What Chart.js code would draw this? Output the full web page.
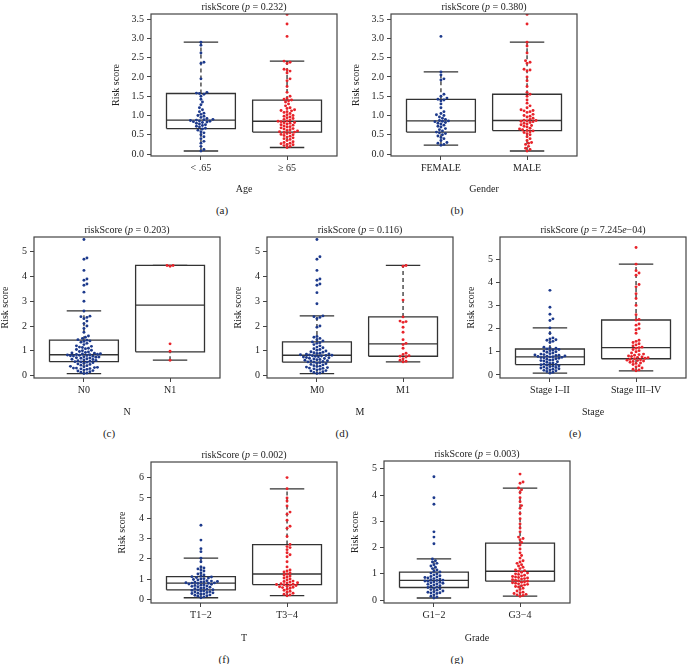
<!DOCTYPE html>
<html>
<head>
<meta charset="utf-8">
<script src="https://cdn.jsdelivr.net/npm/chart.js@4.4.1/dist/chart.umd.min.js"></script>
<style>
body { margin:0; background:#fff; width:687px; height:664px; position:relative; overflow:hidden;
       font-family:"Liberation Serif","DejaVu Serif",serif; color:#222; }
canvas { position:absolute; }
.ttl { position:absolute; font-size:10px; transform:translate(-50%,-50%); white-space:nowrap; color:#222; }
.lab { position:absolute; font-size:11px; transform:translate(-50%,-50%); color:#222; }
</style>
</head>
<body>
<script>
// ---- data ----
// box stats per group: [lower whisker, q1, median, q3, upper whisker]
var ageCats = ['< .65', '\u2265 65'];
var ageLow = [0.08,0.12,0.2,0.28,0.33,0.4,0.45,0.5,0.55,0.58,0.62,0.65,0.67,0.7,0.72,0.74,0.76,0.78,0.8,0.82,0.83,0.84,0.85,0.86,0.87,0.88,0.89,0.9,0.92,0.95,0.98,1.0,1.03,1.06,1.1,1.15,1.2,1.28,1.35,1.42,1.5,1.55,1.57,1.58,1.6,1.95,2.35,2.38,2.62,2.82,2.9];
var ageHigh = [0.17,0.2,0.22,0.24,0.25,0.27,0.28,0.3,0.32,0.35,0.38,0.4,0.42,0.44,0.46,0.48,0.5,0.51,0.53,0.55,0.56,0.57,0.58,0.6,0.61,0.63,0.65,0.66,0.68,0.7,0.71,0.73,0.75,0.76,0.78,0.8,0.81,0.82,0.84,0.85,0.86,0.88,0.9,0.92,0.94,0.96,0.98,1.0,1.02,1.05,1.08,1.1,1.12,1.13,1.15,1.18,1.2,1.25,1.3,1.35,1.38,1.4,1.42,1.45,1.5,1.6,1.75,1.9,1.95,2.1,2.15,2.18,2.2,2.35,2.38,2.41,3.05,3.37,3.62];
var ageBox = [[0.08,0.66,0.88,1.57,2.9],[0.17,0.57,0.85,1.40,2.41]];

var genderCats = ['FEMALE', 'MALE'];
var female = [0.23,0.25,0.28,0.3,0.35,0.4,0.43,0.47,0.5,0.53,0.55,0.57,0.6,0.63,0.66,0.7,0.72,0.75,0.78,0.8,0.82,0.84,0.85,0.86,0.87,0.9,0.93,0.96,1.0,1.02,1.05,1.1,1.2,1.3,1.38,1.4,1.42,1.45,1.5,1.55,1.92,1.95,2.05,2.13,3.05];
var male = [0.08,0.12,0.15,0.2,0.25,0.28,0.3,0.35,0.4,0.45,0.5,0.53,0.56,0.58,0.6,0.61,0.63,0.65,0.67,0.7,0.72,0.74,0.76,0.78,0.8,0.82,0.84,0.85,0.86,0.87,0.88,0.9,0.93,0.96,0.98,1.0,1.03,1.08,1.1,1.12,1.13,1.15,1.2,1.25,1.32,1.4,1.5,1.55,1.6,1.75,1.9,2.0,2.15,2.18,2.2,2.35,2.38,2.42,2.62,2.8,2.9,3.37,3.62];
var genderBox = [[0.23,0.57,0.86,1.42,2.13],[0.08,0.61,0.87,1.55,2.90]];

var nCats = ['N0', 'N1'];
var n0 = [0.08,0.1,0.13,0.15,0.18,0.2,0.22,0.25,0.27,0.28,0.3,0.3,0.32,0.33,0.35,0.37,0.4,0.42,0.45,0.47,0.5,0.52,0.54,0.55,0.56,0.58,0.6,0.61,0.63,0.65,0.66,0.68,0.7,0.71,0.72,0.74,0.75,0.76,0.78,0.79,0.8,0.81,0.82,0.83,0.84,0.85,0.86,0.87,0.88,0.9,0.91,0.93,0.95,0.97,1.0,1.02,1.05,1.08,1.1,1.13,1.15,1.18,1.2,1.25,1.3,1.35,1.38,1.4,1.43,1.45,1.5,1.55,1.6,1.75,1.9,2.0,2.1,2.2,2.3,2.35,2.38,2.4,2.61,3.0,3.37,3.65,3.7,3.85,3.9,4.25,4.7,4.75,5.5];
var n1 = [0.62,0.98,1.28,4.42,4.45,4.45];
var nBox = [[0.08,0.56,0.84,1.43,2.61],[0.62,0.96,2.85,4.45,4.45]];

var mCats = ['M0', 'M1'];
var m0 = [0.08,0.1,0.12,0.15,0.18,0.2,0.23,0.25,0.27,0.29,0.3,0.32,0.34,0.36,0.38,0.4,0.43,0.45,0.48,0.5,0.52,0.54,0.55,0.57,0.59,0.6,0.62,0.64,0.65,0.67,0.69,0.7,0.72,0.73,0.75,0.76,0.78,0.79,0.8,0.81,0.82,0.83,0.84,0.86,0.87,0.89,0.9,0.92,0.94,0.96,0.99,1.02,1.05,1.08,1.12,1.15,1.2,1.25,1.3,1.33,1.36,1.4,1.45,1.5,1.55,1.58,1.95,2.0,2.3,2.35,2.38,2.41,2.9,3.35,3.65,3.7,3.85,3.9,4.25,4.7,4.8,5.5];
var m1 = [0.55,0.58,0.62,0.68,0.75,0.78,0.8,0.85,0.9,1.1,1.25,1.3,1.45,1.75,1.95,2.15,2.18,2.2,2.37,3.05,4.42,4.45];
var mBox = [[0.08,0.54,0.82,1.36,2.41],[0.55,0.78,1.28,2.37,4.45]];

var stageCats = ['Stage I\u2013II', 'Stage III\u2013IV'];
var stage12 = [0.08,0.12,0.15,0.18,0.2,0.22,0.25,0.27,0.28,0.3,0.32,0.34,0.36,0.38,0.4,0.42,0.44,0.45,0.47,0.5,0.52,0.55,0.57,0.6,0.62,0.64,0.66,0.68,0.7,0.72,0.74,0.75,0.76,0.78,0.79,0.8,0.81,0.82,0.84,0.85,0.86,0.88,0.9,0.92,0.95,0.98,1.0,1.03,1.05,1.08,1.1,1.12,1.15,1.18,1.2,1.4,1.45,1.5,1.52,1.55,1.6,1.8,2.03,2.35,2.42,2.62,2.92,3.65];
var stage34 = [0.18,0.22,0.25,0.3,0.35,0.4,0.45,0.5,0.52,0.55,0.58,0.6,0.62,0.64,0.66,0.68,0.7,0.72,0.74,0.76,0.78,0.8,0.82,0.85,0.88,0.9,0.95,1.0,1.05,1.1,1.15,1.18,1.2,1.25,1.3,1.35,1.4,1.45,1.5,1.8,1.95,2.0,2.15,2.2,2.37,2.4,2.6,3.0,3.3,3.5,3.8,3.9,4.3,4.4,4.5,4.78,5.5];
var stageBox = [[0.08,0.45,0.78,1.12,2.03],[0.18,0.70,1.18,2.37,4.78]];

var tCats = ['T1\u22122', 'T3\u22124'];
var t12 = [0.08,0.12,0.15,0.18,0.2,0.22,0.25,0.27,0.29,0.3,0.32,0.34,0.36,0.38,0.4,0.42,0.44,0.46,0.47,0.5,0.52,0.55,0.57,0.6,0.62,0.64,0.66,0.68,0.7,0.72,0.74,0.76,0.78,0.79,0.8,0.81,0.82,0.84,0.85,0.87,0.88,0.9,0.92,0.95,0.98,1.0,1.02,1.05,1.08,1.1,1.12,1.15,1.2,1.25,1.3,1.4,1.45,1.5,1.55,1.6,1.85,2.03,2.35,2.5,2.92,3.65];
var t34 = [0.18,0.22,0.25,0.3,0.35,0.4,0.45,0.5,0.55,0.58,0.6,0.62,0.65,0.68,0.7,0.72,0.73,0.75,0.77,0.8,0.82,0.85,0.88,0.9,0.95,1.0,1.05,1.1,1.15,1.2,1.25,1.3,1.35,1.4,1.45,1.6,1.85,2.1,2.2,2.3,2.45,2.55,2.6,2.7,3.1,3.5,3.6,3.9,4.2,4.3,4.6,4.85,5.0,5.45,6.0];
var tBox = [[0.08,0.47,0.80,1.12,2.03],[0.18,0.73,1.25,2.70,5.45]];

var gradeCats = ['G1\u22122', 'G3\u22124'];
var g12 = [0.08,0.12,0.15,0.2,0.25,0.27,0.28,0.3,0.32,0.35,0.38,0.4,0.43,0.45,0.48,0.5,0.53,0.55,0.58,0.6,0.62,0.64,0.66,0.68,0.7,0.72,0.73,0.75,0.76,0.78,0.8,0.82,0.84,0.86,0.88,0.9,0.93,0.96,1.0,1.03,1.07,1.1,1.15,1.2,1.25,1.3,1.35,1.4,1.45,1.5,1.57,2.15,2.4,2.6,3.65,3.9,4.7];
var g34 = [0.15,0.18,0.2,0.22,0.25,0.28,0.3,0.35,0.4,0.45,0.5,0.52,0.55,0.58,0.6,0.62,0.64,0.66,0.68,0.7,0.72,0.74,0.76,0.78,0.8,0.82,0.84,0.86,0.88,0.9,0.92,0.95,0.98,1.0,1.03,1.06,1.1,1.12,1.15,1.2,1.25,1.3,1.35,1.4,1.45,1.5,1.6,1.7,1.8,1.95,2.1,2.2,2.3,2.35,2.4,2.6,2.75,2.9,3.1,3.3,3.5,3.6,3.75,3.9,4.1,4.2,4.27,4.45,4.5,4.8];
var gradeBox = [[0.08,0.48,0.75,1.07,1.57],[0.15,0.72,1.10,2.17,4.27]];

// tick labels
var ticksHalf = [0,0.5,1,1.5,2,2.5,3,3.5];
var ticks0to5 = [0,1,2,3,4,5];
var ticks0to6 = [0,1,2,3,4,5,6];

var colors = ['#1d3a8c', '#e8232a'];
var lineColor = '#333';
var textColor = '#222';

// ---- panel layout ----
var panels = [
  {cats:ageCats, groups:[ageLow,ageHigh], box:ageBox, p:'0.232', xTitle:'Age', yMin:-0.05, yMax:3.63, yTicks:ticksHalf, dec:1, f:[151,14,186,142], yw:41, xh:39, letter:'(a)', lx:222, ly:210},
  {cats:genderCats, groups:[female,male], box:genderBox, p:'0.380', xTitle:'Gender', yMin:-0.05, yMax:3.63, yTicks:ticksHalf, dec:1, f:[391,14,186,142], yw:41, xh:39, letter:'(b)', lx:457, ly:210},
  {cats:nCats, groups:[n0,n1], box:nBox, p:'0.203', xTitle:'N', yMin:-0.1, yMax:5.6, yTicks:ticks0to5, dec:0, f:[34,237,186,141], yw:35, xh:40, letter:'(c)', lx:109, ly:433},
  {cats:mCats, groups:[m0,m1], box:mBox, p:'0.116', xTitle:'M', yMin:-0.1, yMax:5.6, yTicks:ticks0to5, dec:0, f:[267,237,186,141], yw:35, xh:40, letter:'(d)', lx:342, ly:433},
  {cats:stageCats, groups:[stage12,stage34], box:stageBox, p:'7.245<i>e</i>\u221204', xTitle:'Stage', yMin:-0.13, yMax:5.95, yTicks:ticks0to5, dec:0, f:[500,237,186,141], yw:35, xh:40, letter:'(e)', lx:575, ly:433},
  {cats:tCats, groups:[t12,t34], box:tBox, p:'0.002', xTitle:'T', yMin:-0.18, yMax:6.77, yTicks:ticks0to6, dec:0, f:[151,462,186,141], yw:35, xh:41, letter:'(f)', lx:224, ly:659},
  {cats:gradeCats, groups:[g12,g34], box:gradeBox, p:'0.003', xTitle:'Grade', yMin:-0.11, yMax:5.3, yTicks:ticks0to5, dec:0, f:[384,461,186,142], yw:35, xh:41, letter:'(g)', lx:457, ly:659}
];

var X_MIN = 0.42, X_MAX = 2.58, PAD = 10;

/**
 * Beeswarm placement: returns points with small x offsets so dots do not overlap
 */
function swarm(vals, cx, pxX, pxY, d) {
  var s = vals.slice().sort(function (a, b) { return a - b; });
  var placed = [], pts = [];
  for (var i = 0; i < s.length; i++) {
    var py = s[i] * pxY, off = 0;
    for (var k = 0; k < 80; k++) {
      off = (k % 2 === 1 ? 1 : -1) * Math.ceil(k / 2) * d / 2;
      var ok = true;
      for (var j = placed.length - 1; j >= 0; j--) {
        var dy = py - placed[j][1];
        if (dy >= d) break;
        var dx = off - placed[j][0];
        if (dx * dx + dy * dy < d * d) { ok = false; break; }
      }
      if (ok) break;
    }
    placed.push([off, py]);
    pts.push({x: cx + off / pxX, y: s[i]});
  }
  return pts;
}

function seg(data, dash, order) {
  return {type: 'line', data: data, showLine: true, borderColor: lineColor, borderWidth: 1.3,
          borderDash: dash || [], pointRadius: 0, fill: false, spanGaps: false, order: order || 1};
}

var framePlugin = {
  id: 'frame',
  afterDraw: function (chart) {
    var a = chart.chartArea, c = chart.ctx;
    c.save();
    c.strokeStyle = '#444';
    c.lineWidth = 1.2;
    c.strokeRect(a.left, a.top, a.right - a.left, a.bottom - a.top);
    c.restore();
  }
};

function makePanel(p) {
  var L = p.f[0], T = p.f[1], W = p.f[2], H = p.f[3];
  var cv = document.createElement('canvas');
  var cw = W + p.yw + PAD, ch = H + PAD + p.xh;
  cv.width = cw; cv.height = ch;
  cv.style.left = (L - p.yw) + 'px';
  cv.style.top = (T - PAD) + 'px';
  cv.style.width = cw + 'px';
  cv.style.height = ch + 'px';
  document.body.appendChild(cv);

  var title = document.createElement('div');
  title.className = 'ttl';
  title.style.left = (L + W / 2) + 'px';
  title.style.top = (T - 8) + 'px';
  title.innerHTML = 'riskScore (<i>p</i> = ' + p.p + ')';
  document.body.appendChild(title);

  var lab = document.createElement('div');
  lab.className = 'lab';
  lab.style.left = p.lx + 'px';
  lab.style.top = p.ly + 'px';
  lab.textContent = p.letter;
  document.body.appendChild(lab);

  var pxX = W / (X_MAX - X_MIN), pxY = H / (p.yMax - p.yMin);
  var ds = [];
  for (var g = 0; g < 2; g++) {
    var x = g + 1, b = p.box[g];
    ds.push(seg([{x:x-0.4,y:b[1]},{x:x+0.4,y:b[1]},{x:x+0.4,y:b[3]},{x:x-0.4,y:b[3]},{x:x-0.4,y:b[1]}]));
    ds.push(seg([{x:x-0.4,y:b[2]},{x:x+0.4,y:b[2]}]));
    ds.push(seg([{x:x,y:b[3]},{x:x,y:b[4]},{x:x,y:null},{x:x,y:b[0]},{x:x,y:b[1]}], [4, 3]));
    ds.push(seg([{x:x-0.2,y:b[4]},{x:x+0.2,y:b[4]},{x:x,y:null},{x:x-0.2,y:b[0]},{x:x+0.2,y:b[0]}]));
    ds.push({type: 'scatter', data: swarm(p.groups[g], x, pxX, pxY, 3.0),
             backgroundColor: colors[g], borderWidth: 0, pointRadius: 1.45, order: 0});
  }

  new Chart(cv.getContext('2d'), {
    type: 'scatter',
    data: {datasets: ds},
    plugins: [framePlugin],
    options: {
      responsive: false, animation: false, devicePixelRatio: 1, events: [],
      layout: {padding: {top: PAD, right: PAD, left: 0, bottom: 0}},
      plugins: {legend: {display: false}, tooltip: {enabled: false}},
      scales: {
        x: {
          type: 'linear', min: X_MIN, max: X_MAX, offset: false,
          afterBuildTicks: function (s) { s.ticks = [{value: 1}, {value: 2}]; },
          afterFit: function (s) { s.height = p.xh; },
          ticks: {color: textColor, padding: 2, font: {family: '"Liberation Serif", serif', size: 10},
                  callback: function (v, i) { return p.cats[i]; }},
          grid: {display: true, drawOnChartArea: false, drawTicks: true, tickLength: 4, color: '#444'},
          border: {display: false},
          title: {display: true, text: p.xTitle, color: textColor, padding: 0,
                  font: {family: '"Liberation Serif", serif', size: 10}}
        },
        y: {
          type: 'linear', min: p.yMin, max: p.yMax,
          afterBuildTicks: function (s) { s.ticks = p.yTicks.map(function (v) { return {value: v}; }); },
          afterFit: function (s) { s.width = p.yw; },
          ticks: {color: textColor, padding: 3, font: {family: '"Liberation Serif", serif', size: 10},
                  callback: function (v) { return v.toFixed(p.dec); }},
          grid: {display: true, drawOnChartArea: false, drawTicks: true, tickLength: 4, color: '#444'},
          border: {display: false},
          title: {display: true, text: 'Risk score', color: textColor, padding: 0,
                  font: {family: '"Liberation Serif", serif', size: 10}}
        }
      }
    }
  });
}

panels.forEach(makePanel);
</script>
</body>
</html>
